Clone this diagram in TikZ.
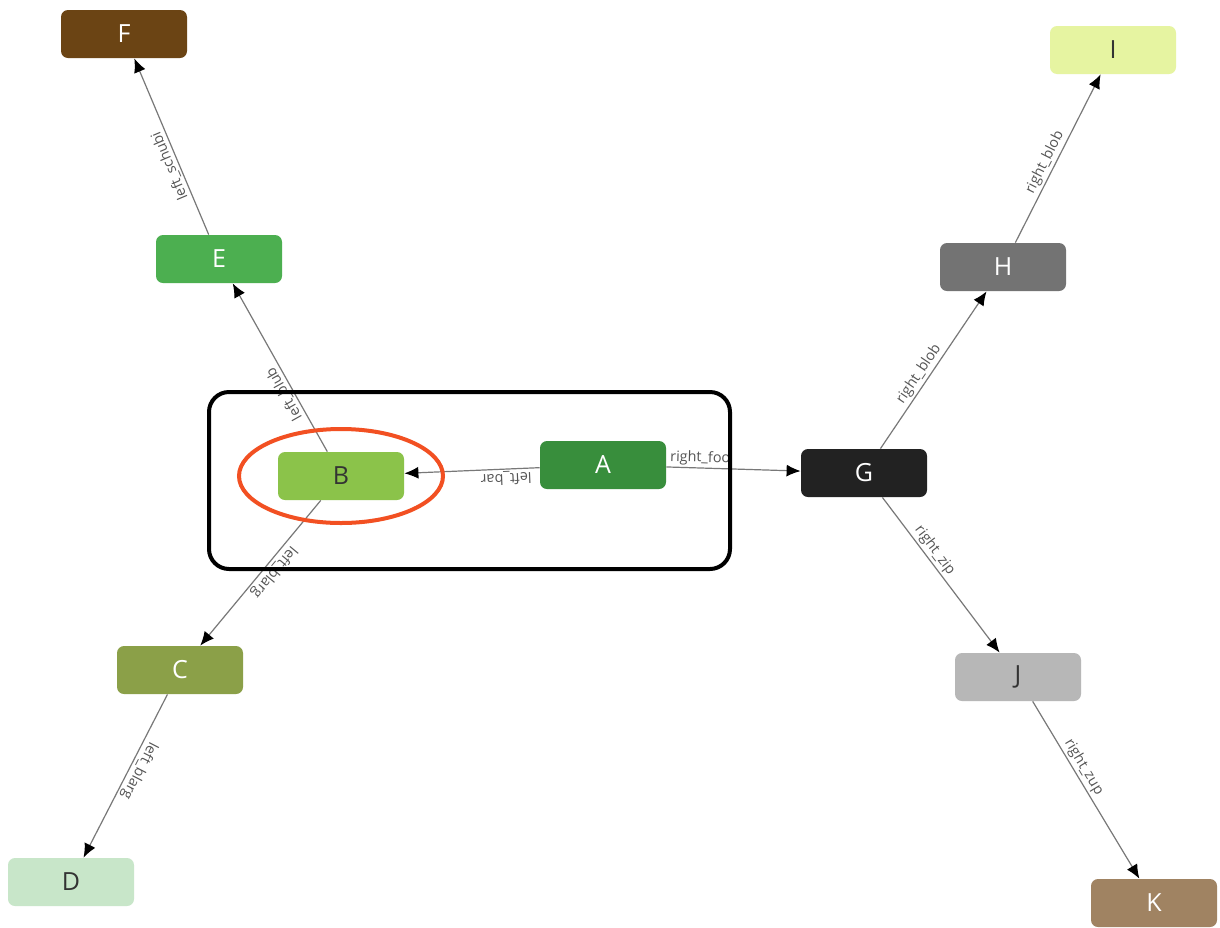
\documentclass[tikz,border=0pt]{standalone}
\usepackage{fontspec}
\setmainfont{Open Sans}
\usepackage{tikz}
\usetikzlibrary{arrows.meta}

\definecolor{nodeA}{RGB}{56,142,60}
\definecolor{nodeB}{RGB}{139,195,74}
\definecolor{nodeC}{RGB}{139,160,72}
\definecolor{nodeD}{RGB}{200,230,201}
\definecolor{nodeE}{RGB}{76,175,80}
\definecolor{nodeF}{RGB}{107,68,20}
\definecolor{nodeG}{RGB}{34,34,34}
\definecolor{nodeH}{RGB}{115,115,115}
\definecolor{nodeI}{RGB}{230,244,161}
\definecolor{nodeJ}{RGB}{183,183,183}
\definecolor{nodeK}{RGB}{160,131,98}
\definecolor{ring}{RGB}{242,80,34}
\definecolor{linkgray}{RGB}{120,120,120}
\definecolor{tagtext}{RGB}{85,85,85}
\definecolor{darktext}{RGB}{51,51,51}

\tikzset{
    box/.style = {rounded corners = 3.5pt, minimum width = 63pt, minimum height = 24pt,
        inner sep = 0pt, font = \fontsize{12.5}{14}\selectfont},
    link/.style = {draw = linkgray, line width = 0.6pt,
        -{Latex[color = black, length = 7pt, width = 6pt]}},
    tag/.style = {sloped, allow upside down, above, inner sep = 1pt, text = tagtext,
        font = \fontsize{7.2}{8}\selectfont}
}

\begin{document}
\begin{tikzpicture}[x = 0.5pt, y = -0.5pt]
    \fill [white] (0, 0) rectangle (1220, 926);
    \node [box, fill = nodeF, text = white] (f) at (124, 34) {F};
    \node [box, fill = nodeE, text = white] (e) at (219, 259) {E};
    \node [box, fill = nodeB, text = darktext] (b) at (341, 476) {B};
    \node [box, fill = nodeA, text = white] (a) at (603, 465) {A};
    \node [box, fill = nodeC, text = white] (c) at (180, 670) {C};
    \node [box, fill = nodeD, text = darktext] (d) at (71, 882) {D};
    \node [box, fill = nodeG, text = white] (g) at (864, 473) {G};
    \node [box, fill = nodeH, text = white] (h) at (1003, 267) {H};
    \node [box, fill = nodeI, text = darktext] (i) at (1113, 50) {I};
    \node [box, fill = nodeJ, text = darktext] (j) at (1018, 677) {J};
    \node [box, fill = nodeK, text = white] (k) at (1154, 903) {K};

    \draw [link] (a) -- node [tag, pos = 0.25] {left\_bar} (b);
    \draw [link] (a) -- node [tag, pos = 0.25] {right\_foo} (g);
    \draw [link] (b) -- node [tag, pos = 0.37] {left\_blub} (e);
    \draw [link] (e) -- node [tag, pos = 0.41] {left\_schubi} (f);
    \draw [link] (b) -- node [tag, pos = 0.45] {left\_blarg} (c);
    \draw [link] (c) -- node [tag, pos = 0.44] {left\_blarg} (d);
    \draw [link] (g) -- node [tag, pos = 0.44] {right\_blob} (h);
    \draw [link] (h) -- node [tag, pos = 0.45] {right\_blob} (i);
    \draw [link] (g) -- node [tag, pos = 0.38] {right\_zip} (j);
    \draw [link] (j) -- node [tag, pos = 0.40] {right\_zup} (k);

    \draw [line width = 2pt, rounded corners = 10pt] (209, 392) rectangle (730, 569);
    \draw [ring, line width = 2pt] (b) ellipse (51pt and 23.5pt);
\end{tikzpicture}
\end{document}
